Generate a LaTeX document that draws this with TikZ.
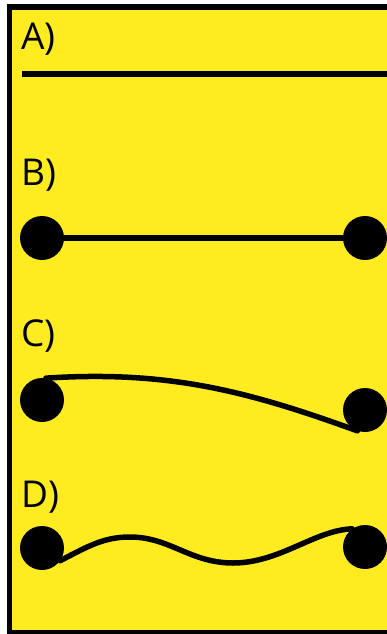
\documentclass[tikz,border=0pt]{standalone}
\usepackage{fontspec}
\setmainfont{Open Sans}
\definecolor{panelyellow}{RGB}{255,236,32}
\begin{document}
\begin{tikzpicture}[x=1pt,y=-1pt,
  label/.style={anchor=base west,inner sep=0pt,font=\fontsize{37}{40}\selectfont},
  dot/.style={circle,fill=black,inner sep=0pt,minimum size=44pt},
  wire/.style={line width=5.5pt,black,line cap=round},
  thickwire/.style={line width=6pt,black}]
  % page and framed panel
  \fill[white] (0,0) rectangle (387,634);
  \fill[black] (7,4) rectangle (387,634);
  \fill[panelyellow] (12,10) rectangle (387,630);
  \useasboundingbox (0,0) rectangle (387,634);

  % A) bare line
  \node[label] (la) at (21,50) {A)};
  \coordinate (a1) at (22,74);
  \coordinate (a2) at (387,74);
  \draw[thickwire] (a1) -- (a2);

  % B) straight wire between two dots
  \node[label] (lb) at (21,185) {B)};
  \node[dot] (b1) at (42,238) {};
  \node[dot] (b2) at (365,238) {};
  \draw[wire] (b1) -- (b2);

  % C) sagging wire
  \node[label] (lc) at (21,346) {C)};
  \node[dot] (c1) at (42,400) {};
  \node[dot] (c2) at (365,410) {};
  \draw[wire] (c1.80) .. controls (170,370) and (250,392) .. (c2.250);

  % D) wavy wire
  \node[label] (ld) at (21,507) {D)};
  \node[dot] (d1) at (42,548) {};
  \node[dot] (d2) at (365,547) {};
  \coordinate (dpeak) at (130,537);
  \coordinate (dtrough) at (233,563);
  \draw[wire] (d1.-35) .. controls (90,545) and (105,537) .. (dpeak)
    .. controls (170,537) and (190,563) .. (dtrough)
    .. controls (280,563) and (315,530) .. (d2.125);
\end{tikzpicture}
\end{document}
